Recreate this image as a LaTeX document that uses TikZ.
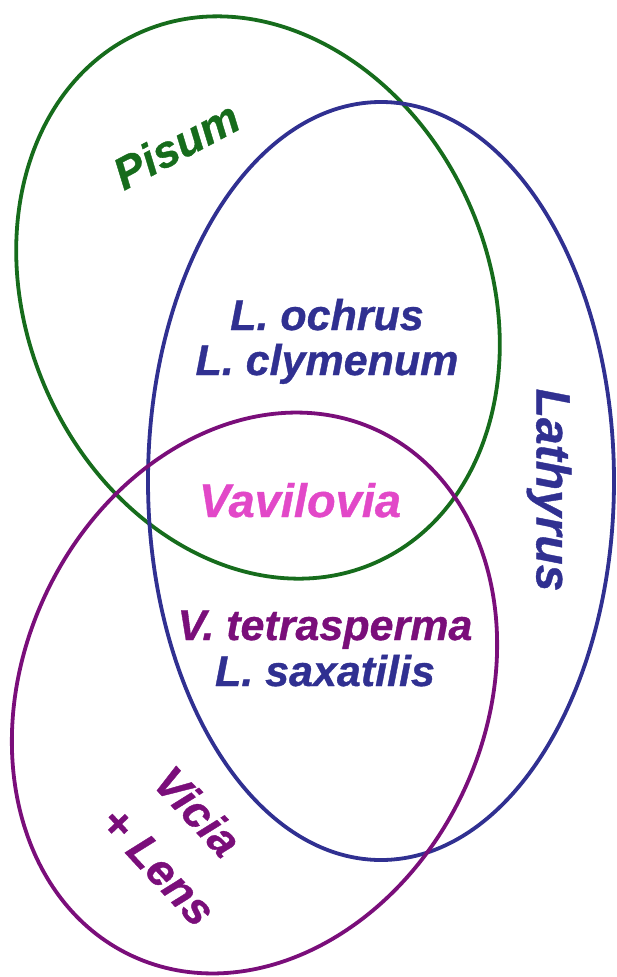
\documentclass[tikz,border=0pt]{standalone}
\usepackage{fontspec}
\setmainfont{Liberation Sans}
\newfontface\lblface{Liberation Sans Bold Italic}[FakeBold=0.8]
\definecolor{pgreen}{RGB}{22,108,28}
\definecolor{lblue}{RGB}{48,48,145}
\definecolor{vpurple}{RGB}{122,14,122}
\definecolor{vpink}{RGB}{226,72,200}
\begin{document}
\begin{tikzpicture}[x=1pt,y=-1pt,
  ring/.style={line width=3.8pt},
  lbl/.style={font=\fontsize{43}{43}\lblface, inner sep=0pt}]
\path[use as bounding box] (0,0) rectangle (617,977);
% ellipses
\draw[ring, pgreen, rotate around={24:(258,297.5)}] (258,297.5) ellipse [x radius=231pt, y radius=290pt];
\draw[ring, lblue] (381,481) ellipse [x radius=233pt, y radius=379pt];
\draw[ring, vpurple, rotate around={-25:(254.5,693)}] (254.5,693) ellipse [x radius=231pt, y radius=290pt];
% labels
\node[lbl, pgreen, font=\fontsize{45}{45}\lblface, rotate=28] (pisum) at (176,145) {Pisum};
\node[lbl, lblue, anchor=base] (ochrus) at (327,330) {L. ochrus};
\node[lbl, lblue, anchor=base] (clymenum) at (327,375) {L. clymenum};
\node[lbl, vpink, anchor=base, font=\fontsize{47}{47}\lblface] (vavilovia) at (300,517) {Vavilovia};
\node[lbl, lblue, font=\fontsize{48}{48}\lblface, rotate=-90] (lathyrus) at (549,490) {Lathyrus};
\node[lbl, vpurple, anchor=base] (tetrasperma) at (325,640) {V. tetrasperma};
\node[lbl, lblue, anchor=base] (saxatilis) at (325,686) {L. saxatilis};
\node[lbl, vpurple, font=\fontsize{45}{45}\lblface, rotate=-47] (vicia) at (198,811) {Vicia};
\node[lbl, vpurple, font=\fontsize{45}{45}\lblface, rotate=-47] (lens) at (158,866) {+ Lens};
\end{tikzpicture}
\end{document}
